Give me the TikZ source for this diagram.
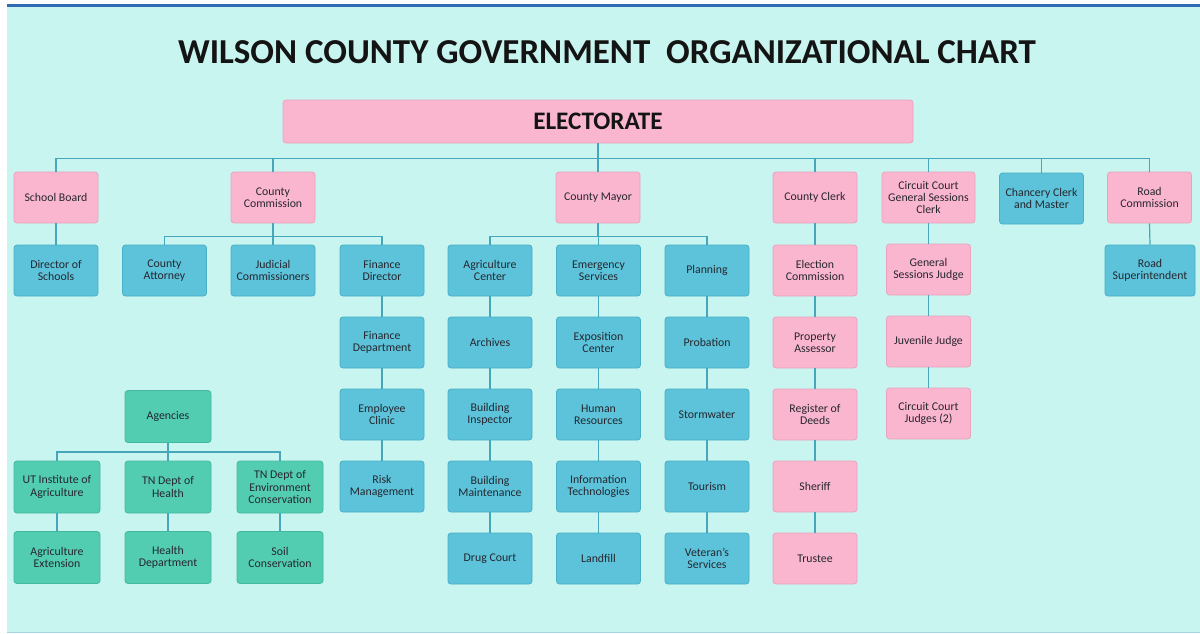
\documentclass[tikz,border=0pt]{standalone}
\usepackage{fontspec}
\setmainfont{Carlito}
\usetikzlibrary{positioning}

\definecolor{mint}{HTML}{C8F5EF}
\definecolor{barblue}{HTML}{2F6CB3}
\definecolor{pinkfill}{HTML}{FBB6CF}
\definecolor{pinkedge}{HTML}{EBA2BD}
\definecolor{bluefill}{HTML}{5CC3DA}
\definecolor{blueedge}{HTML}{4AAFC7}
\definecolor{greenfill}{HTML}{52CDB2}
\definecolor{greenedge}{HTML}{44B89E}
\definecolor{linkcol}{HTML}{47A6BA}
\definecolor{ink}{HTML}{26262E}

\tikzset{
  box/.style={rounded corners=1.5pt,minimum width=42pt,minimum height=25.5pt,
    align=center,inner sep=1pt,line width=0.4pt,text=ink,
    font=\fontsize{5.9}{6.1}\selectfont},
  elected/.style={box,fill=pinkfill,draw=pinkedge},
  office/.style={box,fill=bluefill,draw=blueedge},
  agency/.style={box,fill=greenfill,draw=greenedge,minimum width=43pt,minimum height=26pt},
  link/.style={draw=linkcol,line width=0.6pt},
}

\begin{document}
\begin{tikzpicture}[x=0.5pt,y=-0.5pt]
  % slide background
  \fill[white] (0,0) rectangle (1200,633);
  \fill[mint] (7,7) rectangle (1200,632);
  \fill[barblue] (7,3.5) rectangle (1200,7);
  \fill[linkcol!50] (7,632) rectangle (1200,633);
  \useasboundingbox (0,0) rectangle (1200,633);

  \node[text=black!92,font=\fontsize{17.5}{20}\selectfont\bfseries] (title) at (607,52)
    {WILSON COUNTY GOVERNMENT\ \ ORGANIZATIONAL CHART};

  \node[elected,minimum width=315pt,minimum height=21.5pt,text=black!92,
    font=\fontsize{12.6}{14}\selectfont\bfseries] (elect) at (598,121.5) {ELECTORATE};

  % first level
  \node[elected] (school) at (56,197.5) {School Board};
  \node[elected] (comm) at (273,197.5) {County\\Commission};
  \node[elected] (mayor) at (598,197.5) {County Mayor};
  \node[elected] (clerk) at (815,197.5) {County Clerk};
  \node[elected,minimum width=46.5pt] (ccclerk) at (928.5,197.5) {Circuit Court\\General Sessions\\Clerk};
  \node[office] (chancery) at (1041.5,198.5) {Chancery Clerk\\and Master};
  \node[elected] (road) at (1149.5,197.5) {Road\\Commission};

  \foreach \n in {school,comm,mayor,clerk,ccclerk,chancery,road}
    \draw[link] (elect.south) -- ++(0,15) -| (\n.north);

  % school board and road commission
  \node[office] (dir) at (56,270.5) {Director of\\Schools};
  \node[office,minimum width=45pt] (roadsup) at (1150,270.5) {Road\\Superintendent};
  \draw[link] (school.south) -- (dir.north);
  \draw[link] (road.south) -- (roadsup.north);

  % county commission
  \node[office] (atty) at (164.5,270.5) {County\\Attorney};
  \node[office] (judcom) at (273,270.5) {Judicial\\Commissioners};
  \foreach \txt [count=\i] in {{Finance\\Director},{Finance\\Department},{Employee\\Clinic},{Risk\\Management}}
    \node[office] (fin\i) at (382,198.5+72*\i) {\txt};
  \foreach \n in {atty,judcom,fin1}
    \draw[link] (comm.south) -- ++(0,13) -| (\n.north);

  % county mayor
  \foreach \txt [count=\i] in {{Agriculture\\Center},Archives,{Building\\Inspector},{Building\\Maintenance},Drug Court}
    \node[office] (agri\i) at (490,198.5+72*\i) {\txt};
  \foreach \txt [count=\i] in {{Emergency\\Services},{Exposition\\Center},{Human\\Resources},{Information\\Technologies},Landfill}
    \node[office] (emer\i) at (598.5,198.5+72*\i) {\txt};
  \foreach \txt [count=\i] in {Planning,Probation,Stormwater,Tourism,{Veteran's\\Services}}
    \node[office] (plan\i) at (707,198.5+72*\i) {\txt};
  \foreach \n in {agri1,emer1,plan1}
    \draw[link] (mayor.south) -- ++(0,13) -| (\n.north);

  % county clerk
  \foreach \txt [count=\i] in {{Election\\Commission},{Property\\Assessor},{Register of\\Deeds},Sheriff,Trustee}
    \node[elected] (cl\i) at (815,198.5+72*\i) {\txt};
  \draw[link] (clerk.south) -- (cl1.north);

  % courts
  \foreach \txt [count=\i] in {{General\\Sessions Judge},Juvenile Judge,{Circuit Court\\Judges (2)}}
    \node[elected] (crt\i) at (928.5,197.5+72*\i) {\txt};
  \draw[link] (ccclerk.south) -- (crt1.north);

  % chains down each column
  \foreach \col/\last in {fin/4,agri/5,emer/5,plan/5,cl/5,crt/3}
    \foreach \i [remember=\i as \j (initially 1)] in {2,...,\last}
      \draw[link] (\col\j.south) -- (\col\i.north);

  % state agencies
  \node[agency] (agencies) at (168,416.5) {Agencies};
  \node[agency] (utia) at (57,487) {UT Institute of\\Agriculture};
  \node[agency] (tnhealth) at (168,487) {TN Dept of\\Health};
  \node[agency] (tnenv) at (280,487) {TN Dept of\\Environment\\Conservation};
  \node[agency] (agext) at (57,557.5) {Agriculture\\Extension};
  \node[agency] (hdept) at (168,557.5) {Health\\Department};
  \node[agency] (soil) at (280,557.5) {Soil\\Conservation};
  \foreach \n in {utia,tnhealth,tnenv}
    \draw[link] (agencies.south) -- ++(0,9) -| (\n.north);
  \foreach \top/\bot in {utia/agext,tnhealth/hdept,tnenv/soil}
    \draw[link] (\top.south) -- (\bot.north);
\end{tikzpicture}
\end{document}
